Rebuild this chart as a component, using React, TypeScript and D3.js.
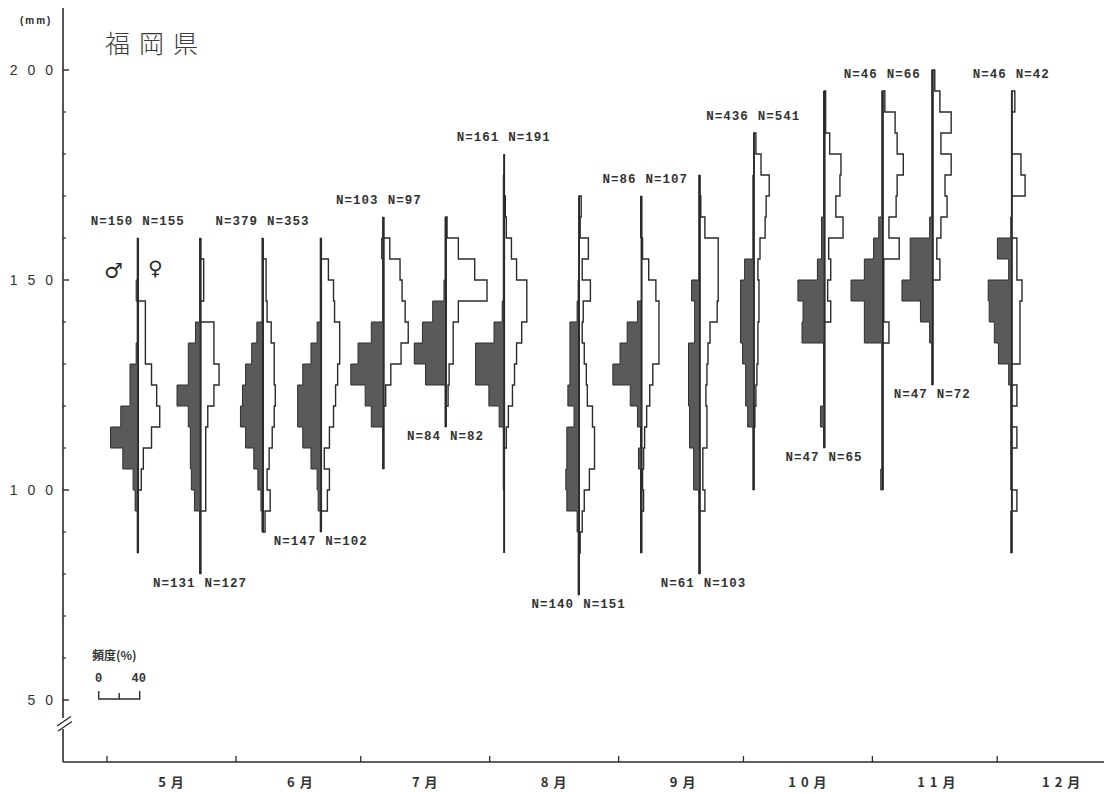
import React from "react";
import * as d3 from "d3";

// ---------- data ----------
const title = "福岡県";
const unitLabel = "(mm)";
const monthLabels = ["5 月", "6 月", "7 月", "8 月", "9 月", "1 0 月", "1 1 月", "1 2 月"];
const monthNumbers = [5, 6, 7, 8, 9, 10, 11, 12];
const yMajorTicks = [200, 150, 100, 50];
const yMinorTicks = [190, 180, 170, 160, 140, 130, 120, 110, 90, 80, 70, 60];
const legendTitle = "頻度(%)";
const legendTicks = [0, 20, 40];
const legendTickLabels = ["0", "40"];

// sampling dates (month/day)
const sampleDates = ["5/8", "5/23", "6/7", "6/21", "7/6", "7/21", "8/4", "8/22", "9/6", "9/20", "10/3", "10/20", "11/3", "11/15", "12/4"];
// upper edge (mm) of first 5-mm class of each histogram
const binTops = [160, 160, 160, 160, 165, 165, 180, 170, 170, 175, 185, 195, 195, 200, 195];
const nMale = [150, 131, 379, 147, 103, 84, 161, 140, 86, 61, 436, 47, 46, 47, 46];
const nFemale = [155, 127, 353, 102, 97, 82, 191, 151, 107, 103, 541, 65, 66, 72, 42];

// frequency (%) per 5-mm class, from the top class downwards
const maleFreq = [
  [1, 1, 2, 1, 1, 2, 8, 8, 17, 27, 15, 5, 3, 1, 1],
  [1, 1, 1, 1, 5, 12, 12, 23, 12, 10, 10, 9, 6, 1, 1, 1],
  [1, 1, 1, 1, 6, 11, 17, 20, 22, 17, 9, 5, 2, 1],
  [1, 1, 1, 1, 4, 10, 18, 23, 23, 18, 10, 4, 3, 1],
  [1, 2, 1, 1, 1, 12, 25, 32, 18, 12, 1, 1],
  [1, 1, 1, 2, 13, 23, 31, 20, 1, 1],
  [0, 1, 1, 1, 1, 1, 1, 2, 10, 28, 28, 15, 5, 1, 1, 1, 0, 0, 0],
  [0, 0, 0, 0, 1, 2, 9, 9, 9, 11, 5, 12, 12, 13, 12, 2, 1, 1, 1],
  [1, 1, 0, 0, 0, 4, 14, 21, 28, 11, 4, 1, 3, 1, 1, 1, 1],
  [1, 1, 1, 1, 1, 8, 5, 5, 11, 11, 11, 10, 10, 6, 6, 1, 1, 1, 1],
  [0, 0, 1, 1, 1, 1, 9, 13, 13, 13, 11, 8, 8, 6, 1, 1, 1],
  [1, 1, 1, 1, 1, 1, 3, 3, 7, 26, 21, 22, 1, 1, 1, 4, 1],
  [1, 1, 1, 1, 1, 1, 4, 9, 18, 31, 18, 18, 1, 1, 1, 1, 1, 1, 2],
  [1, 1, 1, 1, 1, 1, 1, 3, 22, 22, 30, 12, 3, 1, 1],
  [0, 0, 0, 0, 0, 0, 1, 14, 3, 23, 22, 17, 13, 3, 1, 1, 1, 1, 1, 0, 1, 1],
];
const femaleFreq = [
  [0, 0, 0, 7, 7, 7, 13, 18, 21, 13, 5, 3, 0, 0, 0],
  [0, 3, 3, 0, 13, 13, 18, 13, 7, 5, 5, 5, 5, 0, 0, 0],
  [0, 3, 3, 4, 8, 11, 11, 12, 11, 9, 6, 4, 7, 2],
  [0, 7, 12, 13, 18, 18, 16, 14, 12, 8, 3, 8, 6, 0],
  [0, 6, 16, 18, 21, 24, 17, 7, 2, 0, 0, 0],
  [1, 12, 28, 40, 12, 7, 7, 3, 2, 0],
  [0, 0, 1, 2, 7, 12, 22, 22, 17, 12, 10, 8, 4, 2, 0, 0, 0, 0, 0],
  [2, 1, 9, 3, 11, 4, 3, 5, 7, 8, 13, 15, 15, 10, 5, 3, 1, 0, 0],
  [0, 0, 1, 7, 14, 17, 17, 17, 11, 8, 5, 3, 2, 1, 2, 0, 0],
  [0, 1, 5, 18, 18, 18, 17, 10, 8, 7, 6, 7, 7, 3, 3, 5, 0, 0, 0],
  [2, 7, 15, 12, 11, 6, 4, 5, 5, 4, 4, 3, 2, 1, 0, 0, 0],
  [1, 1, 5, 16, 15, 11, 18, 4, 6, 3, 6, 0, 0, 0, 0, 0, 0],
  [2, 12, 14, 20, 14, 13, 6, 16, 1, 1, 1, 6, 0, 0, 0, 0, 0, 0, 0],
  [2, 7, 18, 8, 18, 12, 14, 8, 4, 7, 0, 0, 0, 0, 0],
  [3, 0, 0, 9, 13, 0, 0, 5, 5, 10, 8, 8, 8, 0, 5, 0, 5, 0, 0, 5, 0, 0],
];

// ---------- chart ----------
const W = 1104;
const H = 793;
const BIN = 5;
const YEAR = 2001;
const INK = "#2b2b2b";

const toDate = (s: string) => {
  const [m, d] = s.split("/").map(Number);
  return new Date(Date.UTC(YEAR, m - 1, d, 12));
};

const x = d3
  .scaleUtc()
  .domain([new Date(Date.UTC(YEAR, 4, 1)), new Date(Date.UTC(YEAR, 11, 1))])
  .range([107, 997.2]);
const y = d3.scaleLinear().domain([50, 200]).range([700, 70]);
const f = d3.scaleLinear().domain([0, 40]).range([0, 41]);

const AXIS_X = 63;
const BASE_Y = 762;

function histPath(ax: number, top: number, vals: number[], dir: number) {
  const pts: [number, number][] = [[ax, y(top)]];
  vals.forEach((v, i) => {
    const y0 = y(top - BIN * i);
    const y1 = y(top - BIN * (i + 1));
    const xx = ax + dir * f(v);
    pts.push([xx, y0], [xx, y1]);
  });
  pts.push([ax, y(top - BIN * vals.length)]);
  return (d3.line()(pts) || "") + "Z";
}

export default function App() {
  const labelFont = "'Liberation Mono', 'DejaVu Sans Mono', monospace";
  const cjk = "'Noto Sans CJK JP', 'Noto Sans', sans-serif";
  const monthStarts = monthNumbers.map((m) => new Date(Date.UTC(YEAR, m - 1, 1)));
  const monthMids = monthNumbers.map((m) => new Date(Date.UTC(YEAR, m - 1, 16, 12)));

  return (
    <svg
      width={W}
      height={H}
      viewBox={`0 0 ${W} ${H}`}
      style={{ position: "absolute", left: 0, top: 0, background: "#fff" }}
    >
      <rect x={0} y={0} width={W} height={H} fill="#fff" />

      {/* title */}
      <text x={105} y={53} fontSize={25} fontWeight={300} letterSpacing={9} fontFamily={cjk} fill="#3a3a3a">
        {title}
      </text>

      {/* y axis with break */}
      <line x1={AXIS_X} y1={8} x2={AXIS_X} y2={718} stroke={INK} strokeWidth={1.6} />
      <line x1={AXIS_X} y1={729} x2={AXIS_X} y2={BASE_Y} stroke={INK} strokeWidth={1.6} />
      <line x1={57} y1={726} x2={71} y2={716.5} stroke={INK} strokeWidth={1.4} />
      <line x1={58} y1={731} x2={72} y2={721.5} stroke={INK} strokeWidth={1.4} />
      <text x={20} y={24} fontSize={10} fontWeight={700} letterSpacing={2} fontFamily="'Liberation Sans', sans-serif" fill={INK}>
        {unitLabel}
      </text>
      {yMajorTicks.map((t) => (
        <g key={"ym" + t}>
          <line x1={AXIS_X} x2={AXIS_X + 6} y1={y(t)} y2={y(t)} stroke={INK} strokeWidth={1.4} />
          <text
            x={AXIS_X}
            y={y(t) + 5}
            textAnchor="end"
            fontSize={14}
            letterSpacing={10}
            fontFamily="'Liberation Sans', sans-serif"
            fill="#333"
          >
            {String(t)}
          </text>
        </g>
      ))}
      {yMinorTicks.map((t) => (
        <line key={"yn" + t} x1={AXIS_X} x2={AXIS_X + 3} y1={y(t)} y2={y(t)} stroke={INK} strokeWidth={1.2} />
      ))}

      {/* x axis */}
      <line x1={AXIS_X} y1={BASE_Y} x2={W} y2={BASE_Y} stroke={INK} strokeWidth={1.6} />
      {monthStarts.map((d, i) => (
        <line key={"xt" + i} x1={x(d)} x2={x(d)} y1={BASE_Y} y2={BASE_Y - 6} stroke={INK} strokeWidth={1.3} />
      ))}
      {monthMids.map((d, i) => (
        <text
          key={"xl" + i}
          x={x(d)}
          y={787}
          textAnchor="middle"
          fontSize={13}
          fontWeight={700}
          letterSpacing={1}
          fontFamily={cjk}
          fill="#333"
        >
          {monthLabels[i]}
        </text>
      ))}

      {/* histograms */}
      {sampleDates.map((s, gi) => {
        const ax = x(toDate(s));
        const top = binTops[gi];
        const bottom = top - BIN * maleFreq[gi].length;
        const labelOnTop = gi % 2 === 0;
        const ly = labelOnTop ? y(top) - 13 : y(bottom) + 13;
        return (
          <g key={"h" + gi}>
            <path d={histPath(ax, top, maleFreq[gi], -1)} fill="#5a5a5a" stroke="#2e2e2e" strokeWidth={1} />
            <path d={histPath(ax, top, femaleFreq[gi], 1)} fill="none" stroke={INK} strokeWidth={1.4} />
            <line x1={ax} x2={ax} y1={y(top)} y2={y(bottom)} stroke={INK} strokeWidth={1.7} />
            <text
              x={ax - 5}
              y={ly}
              textAnchor="end"
              fontSize={12.5}
              fontWeight={700}
              letterSpacing={1}
              fontFamily={labelFont}
              fill="#333"
            >
              {`N=${nMale[gi]}`}
            </text>
            <text
              x={ax + 4}
              y={ly}
              textAnchor="start"
              fontSize={12.5}
              fontWeight={700}
              letterSpacing={1}
              fontFamily={labelFont}
              fill="#333"
            >
              {`N=${nFemale[gi]}`}
            </text>
          </g>
        );
      })}

      {/* sex symbols */}
      <text x={104} y={278} fontSize={21} fontFamily="'DejaVu Sans', sans-serif" fill={INK}>
        ♂
      </text>
      <text x={148} y={275} fontSize={20} fontFamily="'DejaVu Sans', sans-serif" fill={INK}>
        ♀
      </text>

      {/* frequency legend */}
      <text x={92} y={660} fontSize={12} fontWeight={700} fontFamily={cjk} fill="#333">
        {legendTitle}
      </text>
      <text x={98.7} y={682} textAnchor="middle" fontSize={12} fontWeight={700} fontFamily={labelFont} fill="#333">
        {legendTickLabels[0]}
      </text>
      <text x={98.7 + f(40) - 1} y={682} textAnchor="middle" fontSize={12} fontWeight={700} fontFamily={labelFont} fill="#333">
        {legendTickLabels[1]}
      </text>
      <path
        d={`M${98.7},691 V699 H${98.7 + f(legendTicks[2])} V691`}
        fill="none"
        stroke={INK}
        strokeWidth={1.4}
      />
      <line x1={98.7 + f(legendTicks[1])} x2={98.7 + f(legendTicks[1])} y1={699} y2={693} stroke={INK} strokeWidth={1.4} />
    </svg>
  );
}
